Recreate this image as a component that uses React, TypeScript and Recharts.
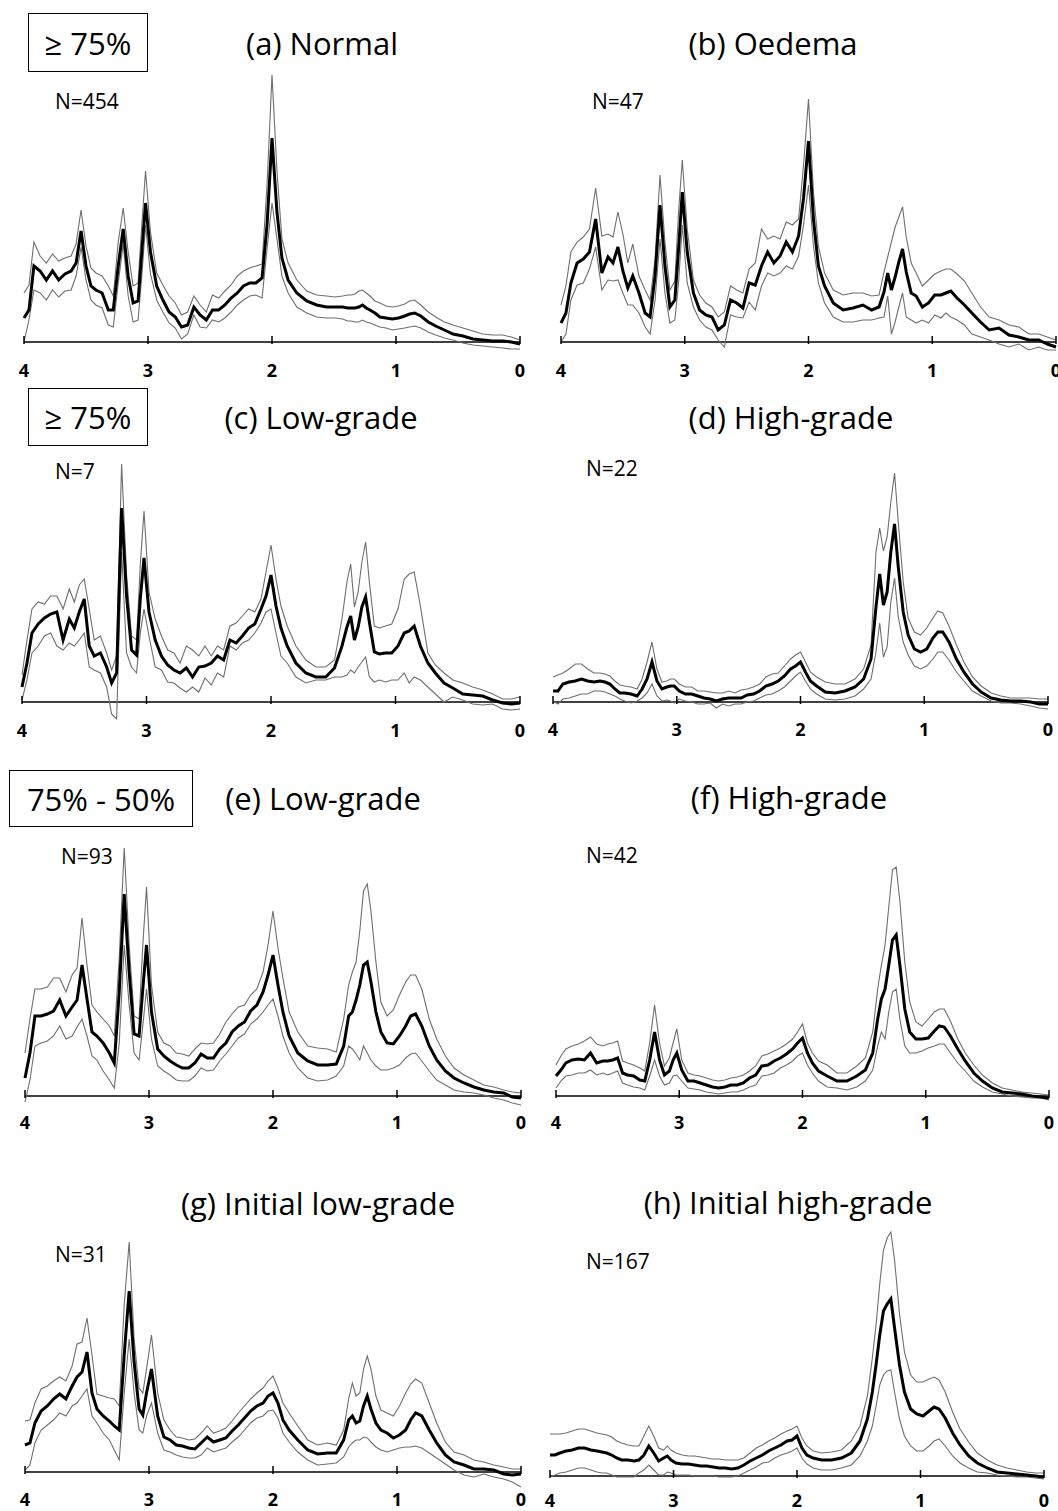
import { Line, LineChart, ReferenceLine, XAxis, YAxis } from 'recharts';

// chemical shift grid (ppm), shared by all panels
const PPM = [
  4.0, 3.96, 3.92, 3.87, 3.82, 3.77, 3.72, 3.67, 3.62, 3.58,
  3.54, 3.5, 3.46, 3.42, 3.37, 3.32, 3.28, 3.24, 3.2, 3.16,
  3.12, 3.08, 3.05, 3.02, 2.98, 2.93, 2.88, 2.83, 2.78, 2.73,
  2.68, 2.63, 2.58, 2.53, 2.48, 2.43, 2.38, 2.33, 2.28, 2.23,
  2.18, 2.13, 2.08, 2.04, 2.0, 1.96, 1.92, 1.87, 1.8, 1.72,
  1.64, 1.56, 1.49, 1.43, 1.39, 1.36, 1.33, 1.3, 1.27, 1.24,
  1.21, 1.17, 1.13, 1.08, 1.03, 0.98, 0.93, 0.89, 0.85, 0.8,
  0.74, 0.68, 0.61, 0.54, 0.46, 0.38, 0.3, 0.22, 0.14, 0.07,
  0.0,
];
const PPM_TICKS = [4, 3, 2, 1, 0];

// (a) Normal
const A_MEAN = [
  24, 32, 76, 71, 62, 71, 62, 68, 71, 79,
  111, 76, 56, 52, 49, 32, 32, 76, 113, 66,
  39, 41, 90, 139, 90, 56, 42, 30, 25, 15,
  17, 35, 27, 22, 32, 32, 37, 44, 49, 56,
  59, 59, 64, 117, 204, 130, 84, 62, 49, 41,
  37, 35, 35, 35, 34, 34, 34, 35, 37, 34,
  32, 29, 25, 24, 23, 24, 26, 28, 29, 26,
  20, 16, 12, 8, 6, 3, 2, 1, 1, 0,
  -2,
];
const A_UPPER = [
  49, 57, 100, 86, 79, 88, 81, 84, 86, 98,
  132, 96, 74, 69, 66, 56, 46, 100, 134, 90,
  56, 59, 117, 171, 110, 69, 57, 46, 39, 27,
  30, 46, 37, 30, 47, 44, 51, 57, 66, 71,
  74, 76, 78, 157, 267, 171, 103, 79, 62, 51,
  47, 46, 45, 46, 47, 47, 48, 51, 52, 49,
  46, 41, 39, 36, 35, 36, 38, 41, 42, 37,
  30, 25, 20, 17, 14, 11, 8, 7, 7, 5,
  2,
];
const A_LOWER = [
  0, 22, 52, 49, 42, 52, 45, 51, 52, 66,
  95, 62, 42, 37, 34, 17, 15, 59, 98, 46,
  20, 22, 66, 117, 68, 42, 30, 19, 14, 3,
  8, 27, 15, 14, 22, 20, 24, 30, 37, 42,
  46, 47, 44, 93, 139, 103, 66, 49, 35, 29,
  25, 24, 24, 23, 21, 21, 20, 20, 22, 20,
  19, 17, 15, 14, 12, 13, 14, 15, 16, 14,
  10, 7, 4, 2, -1, -3, -4, -5, -6, -7,
  -7,
];

// (b) Oedema
const B_MEAN = [
  19, 29, 59, 79, 83, 90, 123, 69, 85, 79,
  95, 71, 54, 66, 49, 29, 25, 66, 137, 76,
  35, 42, 93, 150, 90, 49, 32, 27, 25, 12,
  17, 42, 39, 34, 59, 57, 76, 90, 79, 86,
  100, 90, 106, 144, 201, 123, 76, 56, 39, 32,
  34, 37, 32, 35, 50, 69, 52, 65, 80, 93,
  70, 49, 46, 35, 39, 47, 47, 49, 51, 44,
  37, 29, 20, 12, 14, 7, 5, 2, 2, -2,
  -5,
];
const B_UPPER = [
  37, 56, 90, 100, 105, 113, 154, 106, 108, 105,
  130, 108, 79, 98, 66, 52, 42, 83, 167, 100,
  52, 61, 130, 182, 113, 62, 47, 39, 35, 25,
  30, 56, 52, 49, 73, 79, 113, 103, 106, 103,
  120, 117, 123, 177, 243, 150, 96, 69, 52, 47,
  49, 49, 46, 47, 70, 85, 100, 115, 125, 135,
  105, 79, 69, 56, 62, 68, 71, 73, 73, 68,
  61, 49, 35, 25, 22, 17, 15, 8, 8, 5,
  2,
];
const B_LOWER = [
  0, 8, 42, 57, 59, 73, 95, 52, 62, 61,
  62, 49, 37, 37, 29, 15, 8, 42, 103, 49,
  19, 22, 59, 117, 59, 35, 22, 15, 12, 2,
  -5, 27, 25, 24, 40, 32, 56, 69, 66, 69,
  76, 73, 86, 117, 157, 96, 59, 39, 25, 20,
  20, 22, 22, 24, 25, 46, 8, 20, 35, 49,
  25, 22, 19, 22, 19, 27, 24, 29, 25, 22,
  17, 8, 5, 2, -2, -5, -2, -8, -5, -8,
  -8,
];

// (c) Low-grade, >= 75%
const C_MEAN = [
  15, 39, 69, 78, 84, 88, 90, 62, 83, 74,
  90, 103, 56, 46, 49, 35, 19, 29, 194, 106,
  52, 47, 103, 144, 90, 62, 46, 37, 32, 29,
  34, 25, 35, 36, 39, 46, 42, 62, 59, 66,
  74, 78, 93, 106, 127, 96, 74, 56, 39, 29,
  25, 25, 34, 56, 75, 86, 62, 75, 95, 105,
  80, 50, 48, 49, 49, 56, 69, 71, 76, 56,
  39, 29, 19, 14, 8, 7, 6, 2, -1, -2,
  -1,
];
const C_UPPER = [
  27, 62, 93, 100, 98, 106, 106, 93, 113, 100,
  117, 123, 93, 62, 66, 49, 32, 46, 238, 127,
  66, 62, 137, 191, 110, 83, 66, 52, 49, 39,
  56, 52, 46, 56, 46, 56, 52, 76, 79, 86,
  93, 90, 103, 130, 157, 123, 96, 76, 56, 42,
  35, 35, 42, 83, 120, 138, 95, 110, 140, 160,
  120, 76, 74, 76, 78, 93, 123, 128, 130, 96,
  49, 37, 29, 22, 19, 15, 12, 8, 3, 3,
  5,
];
const C_LOWER = [
  2, 22, 49, 56, 66, 69, 56, 52, 59, 56,
  62, 69, 35, 32, 29, 15, -12, -17, 150, 49,
  35, 29, 69, 93, 66, 35, 32, 20, 19, 14,
  10, 15, 10, 24, 17, 29, 25, 56, 52, 59,
  62, 69, 79, 90, 93, 69, 46, 39, 25, 19,
  22, 22, 25, 25, 27, 32, 29, 35, 40, 45,
  25, 20, 22, 20, 22, 22, 29, 19, 25, 22,
  15, 8, 0, 5, 2, -2, -3, -2, -7, -8,
  -7,
];

// (d) High-grade, >= 75%
const D_MEAN = [
  11, 11, 18, 20, 21, 23, 21, 20, 21, 20,
  18, 13, 9, 9, 8, 6, 13, 23, 40, 21,
  13, 15, 16, 16, 11, 8, 8, 6, 4, 3,
  1, 3, 4, 4, 4, 7, 8, 11, 16, 18,
  21, 26, 33, 36, 40, 30, 21, 16, 10, 9,
  11, 15, 23, 43, 95, 128, 97, 110, 150, 178,
  135, 90, 67, 53, 50, 53, 64, 70, 70, 60,
  43, 30, 18, 10, 4, 2, 1, 1, 0, -2,
  -2,
];
const D_UPPER = [
  25, 27, 29, 33, 38, 38, 33, 29, 29, 28,
  26, 21, 17, 16, 15, 13, 23, 40, 60, 33,
  20, 21, 23, 23, 18, 15, 15, 11, 11, 10,
  9, 9, 11, 9, 12, 13, 15, 18, 25, 28,
  29, 36, 43, 47, 50, 40, 30, 25, 20, 18,
  18, 23, 33, 57, 150, 174, 151, 165, 200, 229,
  180, 120, 84, 70, 67, 74, 84, 91, 89, 76,
  57, 40, 25, 16, 9, 6, 4, 4, 4, 3,
  3,
];
const D_LOWER = [
  1, -2, 3, 4, 6, 8, 8, 11, 11, 10,
  8, 6, 3, 1, -1, 1, 4, 9, 18, 6,
  1, 2, 1, -1, 3, 1, 0, -2, -2, -1,
  -6, -2, -4, -2, -2, 0, 1, 4, 7, 8,
  11, 15, 21, 26, 30, 21, 13, 8, 3, 2,
  3, 6, 13, 23, 50, 79, 45, 55, 100, 124,
  85, 60, 47, 36, 33, 36, 43, 50, 50, 42,
  30, 21, 11, 6, 1, -1, -1, -2, -4, -6,
  -7,
];

// (e) Low-grade, 75% - 50%
const E_MEAN = [
  18, 43, 80, 80, 82, 85, 96, 80, 89, 96,
  131, 97, 64, 60, 53, 43, 33, 104, 202, 124,
  62, 60, 107, 151, 84, 47, 40, 35, 31, 28,
  28, 33, 42, 38, 38, 47, 53, 64, 70, 74,
  85, 91, 104, 121, 141, 111, 84, 60, 43, 35,
  31, 31, 32, 50, 80, 84, 96, 111, 131, 134,
  114, 84, 64, 53, 52, 60, 70, 80, 82, 70,
  50, 36, 25, 18, 13, 9, 6, 4, 3, -1,
  -2,
];
const E_UPPER = [
  43, 77, 107, 107, 109, 118, 118, 104, 121, 128,
  178, 131, 91, 84, 77, 70, 60, 138, 248, 151,
  80, 77, 151, 209, 111, 64, 53, 50, 43, 42,
  40, 47, 53, 52, 53, 62, 74, 82, 89, 91,
  101, 107, 124, 151, 185, 148, 118, 84, 64, 50,
  48, 47, 44, 77, 111, 124, 134, 165, 205, 212,
  185, 134, 94, 80, 86, 101, 114, 121, 121, 107,
  77, 57, 40, 28, 21, 16, 11, 9, 6, 4,
  3,
];
const E_LOWER = [
  -6, 16, 50, 53, 55, 60, 70, 57, 60, 69,
  77, 60, 40, 36, 25, 16, 8, 53, 151, 91,
  43, 36, 70, 107, 57, 30, 25, 21, 16, 15,
  15, 20, 28, 25, 26, 35, 42, 50, 58, 62,
  72, 77, 84, 91, 97, 80, 60, 43, 28, 18,
  15, 16, 20, 30, 50, 47, 42, 36, 50, 43,
  36, 30, 26, 26, 28, 31, 38, 42, 43, 35,
  25, 16, 11, 6, 4, 3, 1, -2, -4, -7,
  -9,
];

// (f) High-grade, 75% - 50%
const F_MEAN = [
  20, 26, 33, 36, 37, 36, 43, 33, 35, 35,
  36, 38, 23, 21, 20, 16, 15, 36, 64, 36,
  21, 25, 36, 43, 26, 15, 15, 13, 11, 9,
  8, 9, 11, 11, 13, 18, 21, 30, 31, 35,
  38, 42, 47, 53, 58, 43, 33, 25, 20, 15,
  15, 20, 26, 43, 77, 97, 107, 131, 156, 161,
  131, 87, 64, 57, 57, 58, 65, 70, 69, 60,
  47, 35, 23, 15, 8, 4, 3, 2, 0, -1,
  -2,
];
const F_UPPER = [
  31, 40, 47, 50, 52, 55, 59, 52, 50, 52,
  53, 55, 35, 33, 31, 28, 25, 53, 91, 53,
  30, 38, 53, 67, 36, 23, 21, 20, 18, 16,
  15, 16, 18, 19, 21, 25, 30, 40, 42, 45,
  48, 52, 57, 64, 72, 53, 43, 35, 31, 23,
  23, 30, 38, 64, 107, 131, 151, 189, 226, 229,
  195, 134, 94, 74, 70, 77, 84, 87, 87, 75,
  57, 43, 31, 21, 13, 8, 6, 4, 3, 2,
  1,
];
const F_LOWER = [
  8, 15, 20, 21, 23, 23, 26, 21, 23, 21,
  23, 25, 13, 11, 9, 8, 6, 20, 36, 20,
  11, 13, 20, 21, 15, 8, 7, 6, 4, 3,
  2, 3, 4, 4, 6, 9, 11, 20, 21, 23,
  28, 31, 35, 40, 43, 31, 23, 15, 9, 8,
  6, 9, 15, 26, 50, 64, 57, 84, 104, 107,
  77, 50, 43, 43, 45, 48, 50, 52, 52, 43,
  33, 25, 15, 9, 4, 2, 0, -1, -2, -2,
  -4,
];

// (g) Initial low-grade
const G_MEAN = [
  27, 29, 49, 61, 66, 73, 78, 73, 86, 95,
  100, 120, 79, 63, 56, 51, 46, 42, 117, 181,
  110, 63, 57, 79, 103, 56, 35, 32, 27, 26,
  24, 23, 29, 35, 30, 32, 34, 41, 47, 54,
  61, 66, 69, 76, 79, 69, 52, 42, 32, 22,
  18, 19, 19, 32, 52, 56, 49, 51, 66, 76,
  63, 49, 42, 39, 34, 37, 42, 52, 59, 56,
  42, 29, 17, 10, 7, 3, 3, 2, -2, -3,
  -2,
];
const G_UPPER = [
  51, 52, 69, 83, 86, 91, 95, 91, 106, 128,
  130, 154, 117, 78, 76, 74, 73, 66, 167, 230,
  133, 84, 79, 103, 137, 79, 52, 42, 35, 34,
  32, 33, 39, 46, 39, 41, 44, 51, 59, 66,
  73, 79, 84, 91, 96, 84, 69, 59, 46, 32,
  27, 29, 27, 42, 73, 89, 76, 79, 103, 116,
  103, 76, 62, 59, 56, 66, 79, 88, 93, 89,
  69, 49, 30, 20, 17, 12, 10, 7, 5, 3,
  3,
];
const G_LOWER = [
  2, 7, 29, 42, 47, 52, 59, 56, 66, 69,
  76, 83, 56, 49, 39, 32, 22, 12, 79, 133,
  79, 42, 39, 56, 69, 39, 22, 20, 17, 15,
  14, 14, 17, 24, 20, 22, 24, 30, 35, 42,
  49, 54, 56, 61, 62, 54, 39, 30, 20, 12,
  7, 8, 9, 15, 25, 29, 32, 32, 35, 34,
  30, 25, 22, 20, 22, 24, 25, 25, 26, 24,
  19, 14, 8, 2, -3, -5, -2, -5, -7, -10,
  -15,
];

// (h) Initial high-grade
const H_MEAN = [
  21, 21, 23, 25, 26, 28, 28, 26, 25, 24,
  23, 21, 18, 16, 16, 15, 16, 21, 30, 23,
  15, 18, 20, 16, 13, 12, 12, 11, 10, 10,
  9, 8, 8, 7, 8, 11, 15, 18, 21, 25,
  28, 31, 35, 36, 40, 28, 21, 18, 16, 16,
  18, 23, 35, 57, 84, 111, 141, 165, 172, 177,
  148, 111, 84, 67, 62, 60, 65, 69, 67, 58,
  43, 31, 20, 13, 8, 4, 3, 2, 1, 0,
  -1,
];
const H_UPPER = [
  42, 42, 42, 43, 45, 47, 47, 45, 43, 42,
  41, 39, 35, 33, 31, 30, 30, 40, 50, 40,
  28, 26, 30, 26, 23, 21, 20, 20, 19, 18,
  17, 17, 16, 16, 16, 18, 23, 28, 31, 35,
  38, 42, 45, 47, 50, 38, 30, 25, 23, 24,
  26, 35, 50, 80, 118, 151, 192, 226, 238, 244,
  216, 162, 124, 101, 94, 94, 97, 99, 96, 84,
  64, 47, 34, 23, 16, 11, 8, 6, 4, 3,
  3,
];
const H_LOWER = [
  -1, 1, 3, 4, 6, 8, 8, 6, 4, 3,
  3, 1, -1, -1, -1, -1, 3, 6, 11, 6,
  1, 1, 4, 3, 1, 1, 1, 0, 0, 0,
  0, -1, -1, -1, 0, 3, 6, 9, 13, 14,
  18, 21, 23, 25, 28, 18, 12, 8, 6, 6,
  8, 11, 20, 35, 50, 70, 91, 101, 105, 106,
  84, 57, 40, 30, 25, 25, 30, 35, 37, 30,
  20, 13, 8, 4, 3, 1, 0, -1, -1, -2,
  -3,
];

const FONT = '"Open Sans", "DejaVu Sans", sans-serif';
const TOP = 285;
const BELOW = 22;
const AXIS_H = 40;
const PAD = 6;

type Panel = {
  title: string;
  n: string;
  x4: number;
  x0: number;
  axisY: number;
  labelDy: number;
  titleX: number;
  titleY: number;
  nX: number;
  nY: number;
  mean: number[];
  upper: number[];
  lower: number[];
};

const PANELS: Panel[] = [
  { title: '(a) Normal', n: 'N=454', x4: 24, x0: 520, axisY: 342, labelDy: 28, titleX: 322, titleY: 43, nX: 55, nY: 101, mean: A_MEAN, upper: A_UPPER, lower: A_LOWER },
  { title: '(b) Oedema', n: 'N=47', x4: 561, x0: 1056, axisY: 342, labelDy: 28, titleX: 773, titleY: 43, nX: 592, nY: 101, mean: B_MEAN, upper: B_UPPER, lower: B_LOWER },
  { title: '(c) Low-grade', n: 'N=7', x4: 22, x0: 520, axisY: 702, labelDy: 28, titleX: 321, titleY: 417, nX: 55, nY: 471, mean: C_MEAN, upper: C_UPPER, lower: C_LOWER },
  { title: '(d) High-grade', n: 'N=22', x4: 553, x0: 1048, axisY: 702, labelDy: 27, titleX: 791, titleY: 417, nX: 586, nY: 468, mean: D_MEAN, upper: D_UPPER, lower: D_LOWER },
  { title: '(e) Low-grade', n: 'N=93', x4: 25, x0: 521, axisY: 1096, labelDy: 26, titleX: 323, titleY: 798, nX: 61, nY: 856, mean: E_MEAN, upper: E_UPPER, lower: E_LOWER },
  { title: '(f) High-grade', n: 'N=42', x4: 556, x0: 1049, axisY: 1096, labelDy: 26, titleX: 789, titleY: 797, nX: 586, nY: 855, mean: F_MEAN, upper: F_UPPER, lower: F_LOWER },
  { title: '(g) Initial low-grade', n: 'N=31', x4: 25, x0: 521, axisY: 1472, labelDy: 27, titleX: 318, titleY: 1203, nX: 55, nY: 1254, mean: G_MEAN, upper: G_UPPER, lower: G_LOWER },
  { title: '(h) Initial high-grade', n: 'N=167', x4: 550, x0: 1044, axisY: 1476, labelDy: 24, titleX: 788, titleY: 1202, nX: 586, nY: 1261, mean: H_MEAN, upper: H_UPPER, lower: H_LOWER },
];

const BOXES = [
  { text: '≥ 75%', left: 28, top: 13, width: 120, height: 59 },
  { text: '≥ 75%', left: 28, top: 388, width: 120, height: 58 },
  { text: '75% - 50%', left: 9, top: 770, width: 184, height: 57 },
];

function PpmTick(props: any) {
  const { x, y, payload, labelDy } = props;
  const ay = y - BELOW;
  return (
    <g>
      <line x1={x} x2={x} y1={ay - 6} y2={ay + 2} stroke="#000" strokeWidth={1.5} />
      <text
        x={x}
        y={ay + labelDy}
        textAnchor="middle"
        dominantBaseline="central"
        fontFamily={FONT}
        fontWeight={700}
        fontSize={18}
        fill="#000"
      >
        {payload.value}
      </text>
    </g>
  );
}

function Spectrum({ p }: { p: Panel }) {
  const rows = PPM.map((ppm, i) => ({ ppm, mean: p.mean[i], upper: p.upper[i], lower: p.lower[i] }));
  const w = p.x0 - p.x4 + PAD * 2;
  return (
    <div style={{ position: 'absolute', left: p.x4 - PAD, top: p.axisY - TOP }}>
      <LineChart width={w} height={TOP + BELOW + AXIS_H} data={rows} margin={{ top: 0, right: PAD, bottom: 0, left: PAD }}>
        <XAxis
          dataKey="ppm"
          type="number"
          domain={[0, 4]}
          reversed
          ticks={PPM_TICKS}
          interval={0}
          axisLine={false}
          tickLine={false}
          tickSize={0}
          tickMargin={0}
          height={AXIS_H}
          tick={<PpmTick labelDy={p.labelDy} />}
        />
        <YAxis hide type="number" domain={[-BELOW, TOP]} />
        <ReferenceLine y={0} stroke="#000" strokeWidth={1.5} />
        <Line type="linear" dataKey="upper" stroke="#6e6e6e" strokeWidth={1.1} dot={false} isAnimationActive={false} />
        <Line type="linear" dataKey="lower" stroke="#6e6e6e" strokeWidth={1.1} dot={false} isAnimationActive={false} />
        <Line type="linear" dataKey="mean" stroke="#000" strokeWidth={3} dot={false} isAnimationActive={false} />
      </LineChart>
    </div>
  );
}

export default function App() {
  return (
    <div
      style={{
        position: 'absolute',
        left: 0,
        top: 0,
        width: 1058,
        height: 1511,
        overflow: 'hidden',
        background: '#fff',
        fontFamily: FONT,
        color: '#000',
      }}
    >
      {PANELS.map((p) => (
        <Spectrum key={p.title} p={p} />
      ))}
      {PANELS.map((p) => (
        <div key={p.title + '-t'}>
          <div
            style={{
              position: 'absolute',
              left: p.titleX,
              top: p.titleY,
              transform: 'translate(-50%, -50%)',
              fontSize: 31,
              lineHeight: 1,
              whiteSpace: 'nowrap',
            }}
          >
            {p.title}
          </div>
          <div
            style={{
              position: 'absolute',
              left: p.nX,
              top: p.nY,
              transform: 'translateY(-50%)',
              fontSize: 21,
              lineHeight: 1,
              whiteSpace: 'nowrap',
            }}
          >
            {p.n}
          </div>
        </div>
      ))}
      {BOXES.map((b, i) => (
        <div
          key={i}
          style={{
            position: 'absolute',
            left: b.left,
            top: b.top,
            width: b.width,
            height: b.height,
            boxSizing: 'border-box',
            border: '1.5px solid #000',
            display: 'flex',
            alignItems: 'center',
            justifyContent: 'center',
            fontSize: 31,
            whiteSpace: 'nowrap',
          }}
        >
          {b.text}
        </div>
      ))}
    </div>
  );
}
